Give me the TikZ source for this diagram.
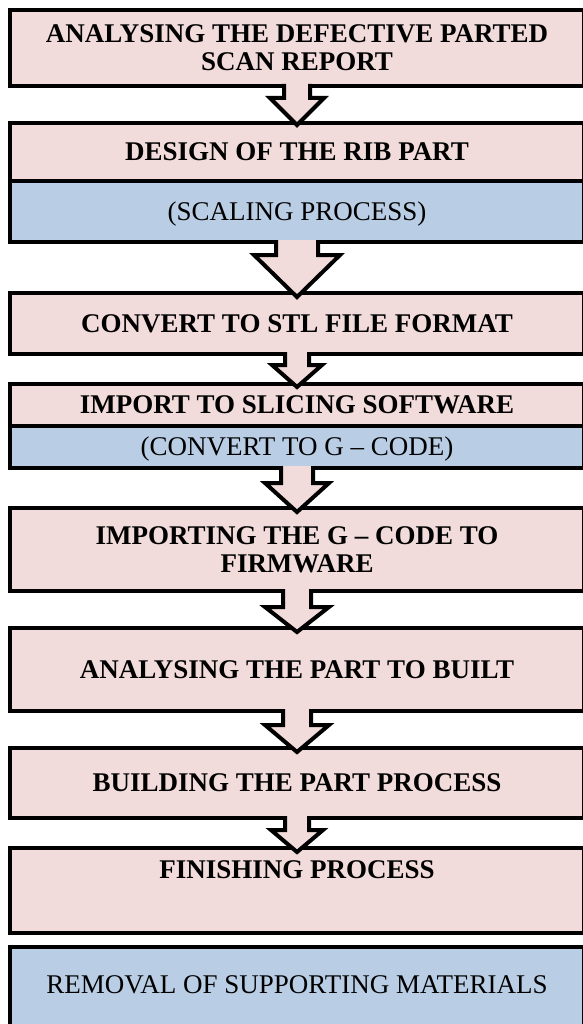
\documentclass[tikz,border=0pt]{standalone}
\usepackage{fontspec}
\setmainfont{Liberation Serif}
\usetikzlibrary{calc}
\definecolor{pinkfill}{HTML}{F2DCDB}
\definecolor{bluefill}{HTML}{B9CDE5}
% #1 from node, #2 to node, #3 shaft half width, #4 head half width, #5 head base below #1, #6 tip below #2
\newcommand{\blkarrow}[6]{%
  \fill[pinkfill] let \p1=(#1.south), \p2=(#2.north) in
    (\x1-#3pt,\y1+2pt) -- (\x1-#3pt,\y1-#5pt) -- (\x1-#4pt,\y1-#5pt) -- (\x1,\y2-#6pt)
    -- (\x1+#4pt,\y1-#5pt) -- (\x1+#3pt,\y1-#5pt) -- (\x1+#3pt,\y1+2pt) -- cycle;
  \draw[arrowline] let \p1=(#1.south), \p2=(#2.north) in
    (\x1-#3pt,\y1+2pt) -- (\x1-#3pt,\y1-#5pt) -- (\x1-#4pt,\y1-#5pt) -- (\x1,\y2-#6pt)
    -- (\x1+#4pt,\y1-#5pt) -- (\x1+#3pt,\y1-#5pt) -- (\x1+#3pt,\y1+2pt);
}
\begin{document}
\begin{tikzpicture}[x=1pt,y=1pt,
  box/.style={draw=black, line width=4pt, minimum width=574pt, inner sep=0pt, outer sep=0pt, align=center},
  pinkbox/.style={box, fill=pinkfill, font=\fontsize{27}{28}\selectfont\bfseries},
  bluebox/.style={box, fill=bluefill, font=\fontsize{27}{28}\selectfont},
  one/.style={text height=17.8pt, text depth=0pt},
  two/.style={text height=45.8pt, text depth=0pt},
  arrowline/.style={draw=black, line width=4pt, line join=miter}
]
\useasboundingbox (0,0) rectangle (582,-1024);
\fill[white] (0,0) rectangle (582,-1024);
\node[pinkbox, two, minimum height=76pt] (b1) at (297,-48) {ANALYSING THE DEFECTIVE PARTED\\SCAN REPORT};
\node[pinkbox, one, minimum height=58pt] (b2) at (297,-152) {DESIGN OF THE RIB PART};
\node[bluebox, one, minimum height=61pt] (b2s) at (297,-211.5) {(SCALING PROCESS)};
\node[pinkbox, one, minimum height=61pt] (b3) at (297,-323.5) {CONVERT TO STL FILE FORMAT};
\node[pinkbox, one, minimum height=42pt] (b4) at (297,-405) {IMPORT TO SLICING SOFTWARE};
\node[bluebox, one, minimum height=42pt] (b4s) at (297,-447) {(CONVERT TO G – CODE)};
\node[pinkbox, two, minimum height=83pt] (b5) at (297,-549.5) {IMPORTING THE G – CODE TO\\FIRMWARE};
\node[pinkbox, one, minimum height=83pt] (b6) at (297,-669.5) {ANALYSING THE PART TO BUILT};
\node[pinkbox, one, minimum height=70pt] (b7) at (297,-783) {BUILDING THE PART PROCESS};
\node[pinkbox, text height=17.8pt, text depth=41pt, minimum height=85pt] (b8) at (297,-890.5) {FINISHING PROCESS};
\node[bluebox, text height=17.8pt, text depth=9pt, minimum height=85pt] (b9) at (297,-989.5) {REMOVAL OF SUPPORTING MATERIALS};
\blkarrow{b1}{b2}{13}{27}{12}{2}
\blkarrow{b2s}{b3}{21}{43}{13}{4}
\blkarrow{b3}{b4}{12}{25}{11}{3}
\blkarrow{b4s}{b5}{16}{32}{15}{4}
\blkarrow{b5}{b6}{14}{32}{16}{4}
\blkarrow{b6}{b7}{14}{32}{14}{4}
\blkarrow{b7}{b8}{12}{26}{12}{4}
\end{tikzpicture}
\end{document}
